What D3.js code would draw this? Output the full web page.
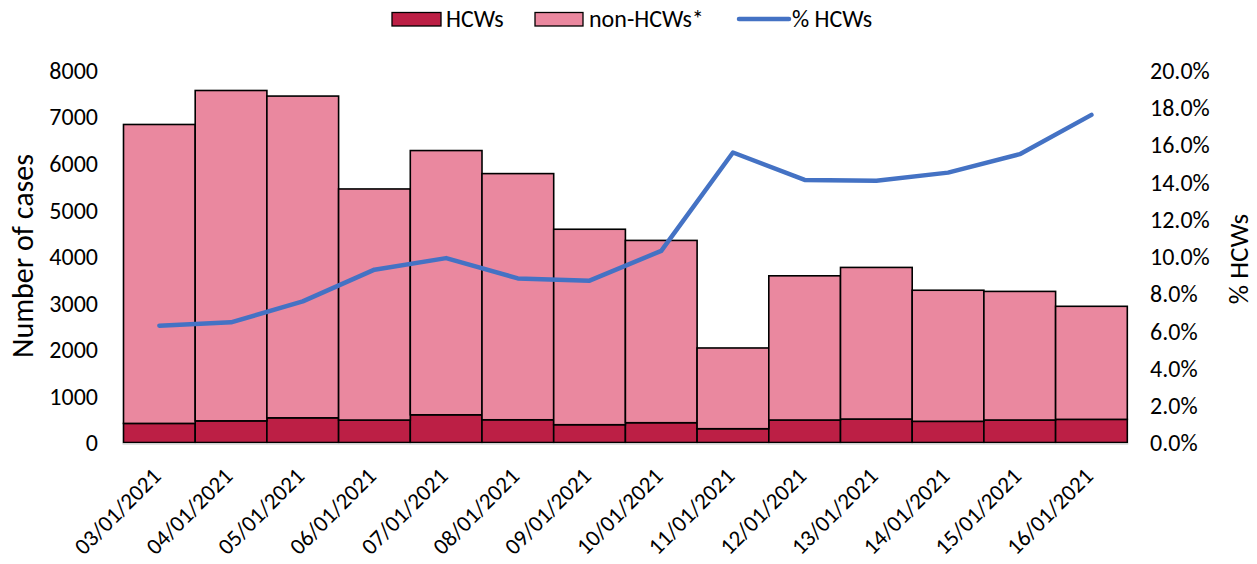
<!DOCTYPE html>
<html>
<head>
<meta charset="utf-8">
<script src="https://cdn.jsdelivr.net/npm/d3@7"></script>
<style>
body { margin:0; background:#fff; }
svg text { font-family: Carlito, Calibri, Lato, "Open Sans", sans-serif; fill:#000; }
</style>
</head>
<body>
<svg id="chart" width="1257" height="564"></svg>
<script>
const categories = ["03/01/2021","04/01/2021","05/01/2021","06/01/2021","07/01/2021","08/01/2021","09/01/2021","10/01/2021","11/01/2021","12/01/2021","13/01/2021","14/01/2021","15/01/2021","16/01/2021"];
const hcws = [410, 465, 530, 482, 595, 488, 382, 425, 296, 483, 504, 455, 483, 497];
const nonHcws = [6420, 7095, 6910, 4963, 5675, 5287, 4198, 3915, 1734, 3097, 3256, 2815, 2762, 2428];
const pctHcws = [6.27, 6.45, 7.58, 9.28, 9.90, 8.81, 8.69, 10.29, 15.57, 14.10, 14.05, 14.49, 15.48, 17.59];
const leftTicks = [0,1000,2000,3000,4000,5000,6000,7000,8000];
const rightTicks = [0,2,4,6,8,10,12,14,16,18,20];
const seriesNames = ["HCWs","non-HCWs*","% HCWs"];

const colHcw = "#BC1F45", colNon = "#EA889F", colLine = "#4472C4";
const svg = d3.select("#chart");
const m = {left:123.5, right:1127.3, top:70, bottom:442.5};

const x = d3.scaleBand().domain(categories).range([m.left, m.right]).padding(0);
const yL = d3.scaleLinear().domain([0,8000]).range([m.bottom, m.top]);
const yR = d3.scaleLinear().domain([0,20]).range([m.bottom, m.top]);

const stackData = categories.map((c,i)=>({cat:c, hcw:hcws[i], non:nonHcws[i]}));
const stacked = d3.stack().keys(["hcw","non"])(stackData);
const colors = {hcw:colHcw, non:colNon};

svg.append("g").selectAll("g").data(stacked).join("g")
  .attr("fill", d=>colors[d.key])
  .selectAll("rect").data(d=>d).join("rect")
  .attr("x", d=>x(d.data.cat))
  .attr("width", x.bandwidth())
  .attr("y", d=>yL(d[1]))
  .attr("height", d=>yL(d[0])-yL(d[1]))
  .attr("stroke","#000").attr("stroke-width",1.6);

// baseline
svg.append("line").attr("x1",m.left-1).attr("x2",m.right+1)
  .attr("y1",m.bottom+1.5).attr("y2",m.bottom+1.5)
  .attr("stroke","#d9d9d9").attr("stroke-width",1.5);

// line
const line = d3.line().x((d,i)=>x(categories[i])+x.bandwidth()/2).y(d=>yR(d));
svg.append("path").datum(pctHcws).attr("d",line)
  .attr("fill","none").attr("stroke",colLine).attr("stroke-width",4.5)
  .attr("stroke-linecap","round").attr("stroke-linejoin","round");

// left axis
const axL = d3.axisLeft(yL).tickValues(leftTicks).tickSize(0).tickPadding(0).tickFormat(d3.format("d"));
const gL = svg.append("g").attr("transform","translate(98,0)").call(axL);
gL.select(".domain").remove();
gL.selectAll("text").attr("font-size",24).attr("dy","0.35em");

// right axis
const axR = d3.axisRight(yR).tickValues(rightTicks).tickSize(0).tickPadding(0).tickFormat(d=>d.toFixed(1)+"%");
const gR = svg.append("g").attr("transform","translate(1150,0)").call(axR);
gR.select(".domain").remove();
gR.selectAll("text").attr("font-size",24).attr("dy","0.35em");

// x axis
const axX = d3.axisBottom(x).tickSize(0).tickPadding(0);
const gX = svg.append("g").attr("transform",`translate(0,${m.bottom})`).call(axX);
gX.select(".domain").remove();
gX.selectAll("text").attr("font-size",23)
  .attr("text-anchor","end")
  .attr("dy","0")
  .attr("transform","translate(3,35) rotate(-45)")
  .attr("y",0).attr("x",0);

// axis titles
svg.append("text").attr("transform","translate(33,256) rotate(-90)")
  .attr("text-anchor","middle").attr("font-size",30).text("Number of cases");
svg.append("text").attr("transform","translate(1248,259) rotate(-90)")
  .attr("text-anchor","middle").attr("font-size",27).text("% HCWs");

// legend
const lg = svg.append("g");
lg.append("rect").attr("x",392).attr("y",12.5).attr("width",49).attr("height",13.5)
  .attr("fill",colHcw).attr("stroke","#000").attr("stroke-width",1.3);
lg.append("text").attr("x",446).attr("y",19).attr("dy","0.35em").attr("font-size",24).text(seriesNames[0]);
lg.append("rect").attr("x",535).attr("y",12.5).attr("width",48).attr("height",13.5)
  .attr("fill",colNon).attr("stroke","#000").attr("stroke-width",1.3);
lg.append("text").attr("x",589).attr("y",19).attr("dy","0.35em").attr("font-size",24).text(seriesNames[1]);
lg.append("line").attr("x1",739).attr("x2",789).attr("y1",19).attr("y2",19)
  .attr("stroke",colLine).attr("stroke-width",4.5).attr("stroke-linecap","round");
lg.append("text").attr("x",792).attr("y",19).attr("dy","0.35em").attr("font-size",24).text(seriesNames[2]);
</script>
</body>
</html>
